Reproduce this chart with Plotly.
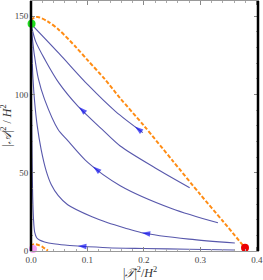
import plotly.graph_objects as go

# Flow-line data (|T|^2/H^2, |A|^2/H^2)
a_x = [0.0, 0.05, 0.101, 0.15, 0.198]
a_y = [145, 126, 106, 89, 75.6]

b_x = [0.0, 0.008, 0.025, 0.05, 0.083, 0.126, 0.158, 0.22, 0.281]
b_y = [145, 134, 122, 107, 92.5, 77.6, 67, 53, 40.4]

c_x = [0.0, 0.003, 0.006, 0.013, 0.024, 0.048, 0.064, 0.101, 0.158, 0.25, 0.331]
c_y = [145, 134, 125, 110, 96.8, 77.6, 71, 56.4, 41.7, 27, 18]

d_x = [0.0, 0.0015, 0.0035, 0.0065, 0.011, 0.018, 0.027, 0.036, 0.048, 0.065, 0.108, 0.136, 0.166, 0.196, 0.28, 0.361]
d_y = [145, 128, 110, 95, 80, 64.7, 51, 42.3, 35.5, 29.5, 21.8, 18, 14.7, 11.7, 7.6, 5.1]

e_x = [0.0, 0.0006, 0.0012, 0.002, 0.003, 0.0045, 0.0065, 0.01, 0.015, 0.024, 0.04, 0.06, 0.083, 0.136, 0.2, 0.28, 0.36]
e_y = [145, 110, 80, 55, 35, 20, 12, 8.5, 7.0, 5.8, 4.6, 3.8, 3.2, 2.1, 1.6, 1.1, 0.6]

flow_x = [a_x, b_x, c_x, d_x, e_x]
flow_y = [a_y, b_y, c_y, d_y, e_y]

# Arrow heads: tail point (downstream) -> head point
arrow_from_x = [0.198, 0.100, 0.125, 0.22, 0.10]
arrow_from_y = [75.6, 86.9, 49.5, 10.4, 2.9]
arrow_at_x = [0.184, 0.085, 0.110, 0.196, 0.083]
arrow_at_y = [79.5, 92.0, 54.0, 11.7, 3.2]

# Orange dashed separatrix curves
sep_x = [0.0, 0.006, 0.012, 0.03, 0.05, 0.08, 0.101, 0.13, 0.158, 0.2, 0.25, 0.3, 0.34, 0.379]
sep_y = [147.5, 149, 149.4, 146.5, 141, 130, 121.5, 110, 97.5, 80, 58, 36, 19, 2]
small_x = [0.0, 0.003, 0.007, 0.015, 0.022, 0.03]
small_y = [2.8, 4.0, 4.4, 3.6, 2.2, 0.3]

# Fixed points
pink_pt = (0.0035, 1.3)
green_pt = (0.001, 145)
red_pt = (0.379, 2)

x_ticks = [0.0, 0.1, 0.2, 0.3, 0.4]
x_ticklabels = ["0.0", "0.1", "0.2", "0.3", "0.4"]
y_ticks = [0, 50, 100, 150]
y_ticklabels = ["0", "50", "100", "150"]

x_title = "|<i>𝒯</i>|<sup>2</sup>/<i>H</i><sup>2</sup>"
y_title = "|<i>𝒜</i>|<sup>2</sup> / <i>H</i><sup>2</sup>"

LINE = "rgb(88,88,172)"
fig = go.Figure()

for xs, ys in zip(flow_x, flow_y):
    fig.add_trace(go.Scatter(x=xs, y=ys, mode="lines",
                             line=dict(color=LINE, width=1.1, shape="spline", smoothing=0.8),
                             hoverinfo="skip", showlegend=False))

for fx, fy, ax_, ay_ in zip(arrow_from_x, arrow_from_y, arrow_at_x, arrow_at_y):
    fig.add_trace(go.Scatter(x=[fx, ax_], y=[fy, ay_], mode="markers",
                             marker=dict(symbol="arrow", angleref="previous", size=[0, 9],
                                         color="rgb(20,20,240)", line=dict(width=0)),
                             hoverinfo="skip", showlegend=False))

ORANGE = "rgb(255,140,20)"
fig.add_trace(go.Scatter(x=sep_x, y=sep_y, mode="lines",
                         line=dict(color=ORANGE, width=2, dash="4px,2px", shape="spline", smoothing=0.8),
                         hoverinfo="skip", showlegend=False))
fig.add_trace(go.Scatter(x=small_x, y=small_y, mode="lines",
                         line=dict(color=ORANGE, width=2, dash="4px,2px", shape="spline", smoothing=0.8),
                         hoverinfo="skip", showlegend=False))

for (px, py), col in [(pink_pt, "rgb(245,160,245)"), (green_pt, "rgb(30,220,30)"), (red_pt, "rgb(235,0,0)")]:
    fig.add_trace(go.Scatter(x=[px], y=[py], mode="markers",
                             marker=dict(size=8, color=col, line=dict(width=0)),
                             hoverinfo="skip", showlegend=False, cliponaxis=False))

TICKFONT = dict(family="Liberation Serif, Times New Roman, serif", size=9, color="#444")
fig.update_xaxes(range=[0, 0.402], tickvals=x_ticks, ticktext=x_ticklabels,
                 ticks="inside", ticklen=4, tickcolor="#888", tickwidth=1,
                 minor=dict(ticks="inside", ticklen=2, dtick=0.02, tickcolor="#aaa"),
                 showline=True, linecolor="#999", linewidth=1, mirror="allticks",
                 showgrid=False, zeroline=False, tickfont=TICKFONT, automargin=False)
fig.update_yaxes(range=[0, 159.6], tickvals=y_ticks, ticktext=y_ticklabels,
                 ticks="inside", ticklen=4, tickcolor="#888", tickwidth=1,
                 minor=dict(ticks="inside", ticklen=2, dtick=10, tickcolor="#aaa"),
                 showline=True, linecolor="#999", linewidth=1, mirror="allticks",
                 showgrid=False, zeroline=False, tickfont=TICKFONT, automargin=False)

# axis titles as annotations
TFONT = dict(family="Liberation Serif, serif", size=12, color="#333")
fig.add_annotation(text=x_title, xref="paper", yref="paper", x=0.48, y=0,
                   yshift=-12, xanchor="center", yanchor="top", showarrow=False, font=TFONT)
fig.add_annotation(text=y_title, xref="paper", yref="paper", x=0, y=0.5,
                   xshift=-16, xanchor="right", yanchor="middle", textangle=-90,
                   showarrow=False, font=TFONT)

# thick black frame lines left and right
fig.add_shape(type="line", xref="paper", yref="paper", x0=0, x1=0, y0=0, y1=1,
              line=dict(color="black", width=2.5))
fig.add_shape(type="line", xref="paper", yref="paper", x0=1, x1=1, y0=0, y1=1,
              line=dict(color="black", width=2.5))

fig.update_layout(width=263, height=280, margin=dict(l=31, r=5, t=1, b=29),
                  plot_bgcolor="white", paper_bgcolor="white")

fig.write_html("out.html", config={"displayModeBar": False, "staticPlot": True},
               post_script="document.body.style.margin='0px';document.body.style.overflow='hidden';")
